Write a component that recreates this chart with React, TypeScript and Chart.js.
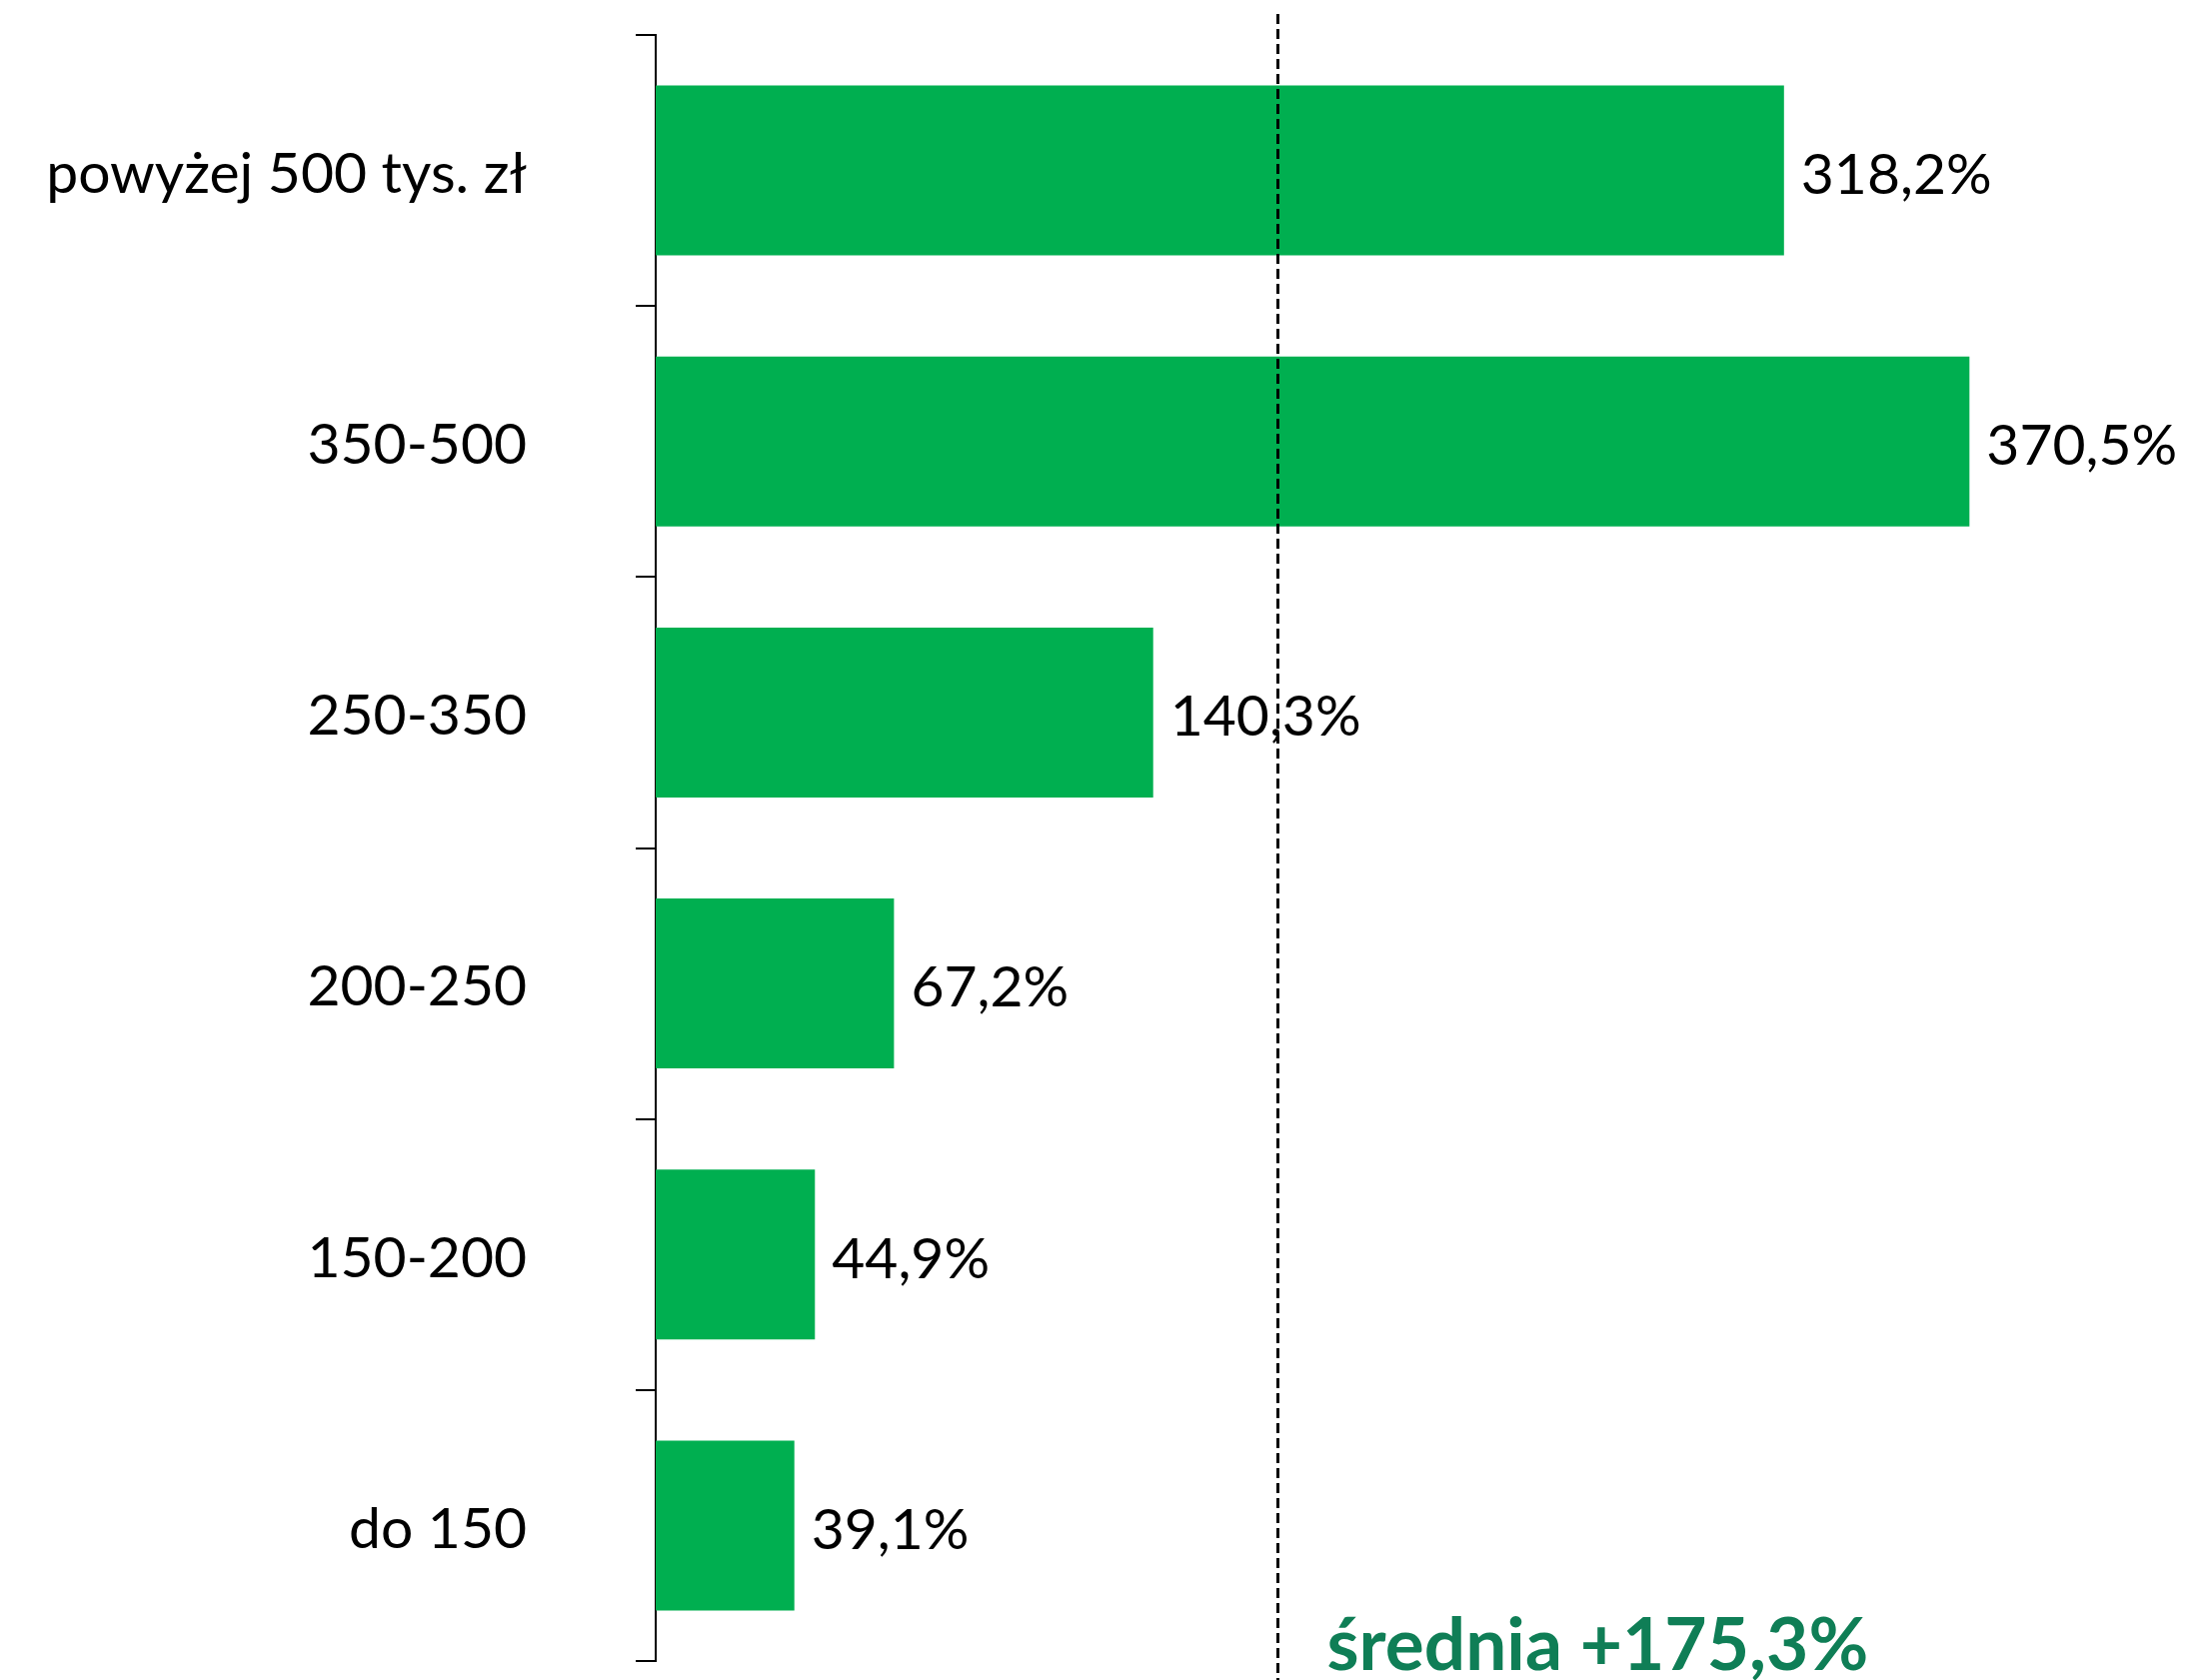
import React, { useEffect, useRef } from "react";
import { Chart, registerables } from "chart.js";

Chart.register(...registerables);

const categories: string[] = [
  "powyżej 500 tys. zł",
  "350-500",
  "250-350",
  "200-250",
  "150-200",
  "do 150",
];
const values: number[] = [318.2, 370.5, 140.3, 67.2, 44.9, 39.1];
const valueLabels: string[] = ["318,2%", "370,5%", "140,3%", "67,2%", "44,9%", "39,1%"];
const averageValue = 175.3;
const averageLabel = "średnia +175,3%";

const FONT = "Lato, 'Open Sans', sans-serif";

export default function App() {
  const ref = useRef<HTMLCanvasElement | null>(null);

  useEffect(() => {
    document.body.style.margin = "0";
    const canvas = ref.current;
    if (!canvas) return;

    const overlay = {
      id: "overlay",
      afterDatasetsDraw(chart: any) {
        const ctx = chart.ctx;
        const meta = chart.getDatasetMeta(0);
        ctx.save();
        ctx.fillStyle = "#000000";
        ctx.font = `57px ${FONT}`;
        ctx.textAlign = "left";
        ctx.textBaseline = "middle";
        meta.data.forEach((bar: any, i: number) => {
          ctx.fillText(valueLabels[i], bar.x + 17, bar.y + 5);
        });
        ctx.restore();
      },
      afterDraw(chart: any) {
        const ctx = chart.ctx;
        const x = Math.round(chart.scales.x.getPixelForValue(averageValue)) + 0.5;
        ctx.save();
        ctx.strokeStyle = "#000000";
        ctx.lineWidth = 3;
        ctx.setLineDash([10, 5]);
        ctx.beginPath();
        ctx.moveTo(x, 14);
        ctx.lineTo(x, chart.height);
        ctx.stroke();
        ctx.setLineDash([]);
        ctx.fillStyle = "#0F7E56";
        ctx.font = `bold 73px ${FONT}`;
        ctx.textAlign = "left";
        ctx.textBaseline = "middle";
        ctx.fillText(averageLabel, x + 49, 1647);
        ctx.restore();
      },
    };

    const chart = new Chart(canvas, {
      type: "bar",
      data: {
        labels: categories,
        datasets: [
          {
            data: values,
            backgroundColor: "#00AF50",
            borderWidth: 0,
            barPercentage: 0.627,
            categoryPercentage: 1,
          },
        ],
      },
      options: {
        indexAxis: "y",
        responsive: false,
        animation: false,
        devicePixelRatio: 1,
        layout: { padding: { top: 35, bottom: 19, left: 0, right: 113 } },
        plugins: {
          legend: { display: false },
          tooltip: { enabled: false },
          title: { display: false },
        },
        scales: {
          x: {
            display: false,
            min: 0,
            max: 400,
          },
          y: {
            afterFit(scale: any) {
              scale.width = 656;
              scale.paddingTop = 0;
              scale.paddingBottom = 0;
            },
            grid: {
              display: true,
              drawOnChartArea: false,
              drawTicks: true,
              tickLength: 20,
              color: "#000000",
              lineWidth: 2,
              offset: true,
            },
            border: { display: true, color: "#000000", width: 2 },
            ticks: {
              padding: 109,
              labelOffset: 4,
              color: "#000000",
              font: { family: FONT, size: 57 },
            },
          },
        },
      },
      plugins: [overlay],
    });

    return () => chart.destroy();
  }, []);

  return (
    <div style={{ width: 2188, height: 1681 }}>
      <canvas ref={ref} width={2188} height={1681} style={{ display: "block" }} />
    </div>
  );
}
